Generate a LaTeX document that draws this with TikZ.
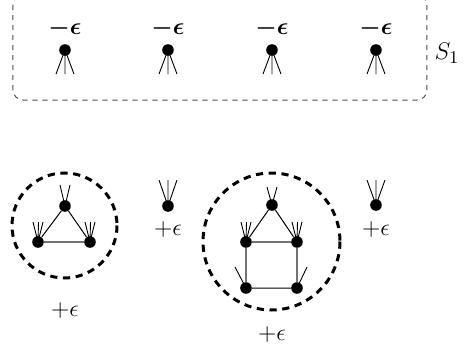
\documentclass[tikz,border=0pt]{standalone}
\usepackage{bm}
\begin{document}
\begin{tikzpicture}[x=0.5pt,y=-0.5pt,
  dot/.style={circle,fill=black,inner sep=0pt,minimum size=5.8pt},
  leg/.style={line width=0.45pt},
  edgeb/.style={line width=0.5pt,black},
  edgeg/.style={line width=0.9pt,black!55},
  bigcirc/.style={line width=1.5pt,dash pattern=on 3.6pt off 2.8pt},
  setbox/.style={line width=0.5pt,black!70,dash pattern=on 2.6pt off 2.4pt,rounded corners=5pt},
  lab/.style={font=\fontsize{12.5}{15}\selectfont,inner sep=0pt}]
\useasboundingbox (0,0) rectangle (468,354);
% top set
\draw[setbox] (13,-5) rectangle (427,100);
\node[lab] (s1) at (447,53) {$S_1$};
\foreach \i/\x in {1/65,2/168,3/272,4/376}{
  \draw[leg] (\x,50) -- (\x-9,74) (\x,50) -- (\x,74) (\x,50) -- (\x+9,74);
  \node[dot] (t\i) at (\x,50) {};
  \node[lab] (tl\i) at (\x,28) {$\bm{-\epsilon}$};
}
% triangle
\draw[bigcirc] (64.5,225.5) circle (52.5);
\node[dot] (a1) at (65,206) {};
\node[dot] (a2) at (38,242) {};
\node[dot] (a3) at (90,242) {};
\draw[leg] (a1.center) -- (60,185) (a1.center) -- (70,185);
\draw[leg] (a2.center) -- (33,222) (a2.center) -- (38.5,222) (a2.center) -- (43,222);
\draw[leg] (a3.center) -- (85,222) (a3.center) -- (90.5,222) (a3.center) -- (95,222);
\draw[edgeb] (a1) -- (a2) (a1) -- (a3);
\draw[edgeg] (a2) -- (a3);
\node[lab] (la) at (65,310) {$+\epsilon$};
% single node 1
\node[dot] (b) at (168,206) {};
\draw[leg] (b.center) -- (159,180) (b.center) -- (168,180) (b.center) -- (177,180);
\node[lab] (lb) at (168,229) {$+\epsilon$};
% house
\draw[bigcirc] (271.5,241.5) circle (68.5);
\node[dot] (h1) at (272,205) {};
\node[dot] (h2) at (246,242) {};
\node[dot] (h3) at (297,242) {};
\node[dot] (h4) at (246,288) {};
\node[dot] (h5) at (297,288) {};
\draw[leg] (h1.center) -- (267,187) (h1.center) -- (277,187);
\draw[leg] (h2.center) -- (241,222) (h2.center) -- (246.5,222) (h2.center) -- (251,222);
\draw[leg] (h3.center) -- (292,222) (h3.center) -- (297.5,222) (h3.center) -- (302,222);
\draw[leg] (h4.center) -- (235,267);
\draw[leg] (h5.center) -- (307,267);
\draw[edgeb] (h1) -- (h2) (h1) -- (h3) (h4) -- (h5);
\draw[edgeg] (h2) -- (h3) (h2) -- (h4) (h3) -- (h5);
\node[lab] (lh) at (272,335) {$+\epsilon$};
% single node 2
\node[dot] (c) at (376,205) {};
\draw[leg] (c.center) -- (367,180) (c.center) -- (376,180) (c.center) -- (385,180);
\node[lab] (lc) at (376,229) {$+\epsilon$};
\end{tikzpicture}
\end{document}
